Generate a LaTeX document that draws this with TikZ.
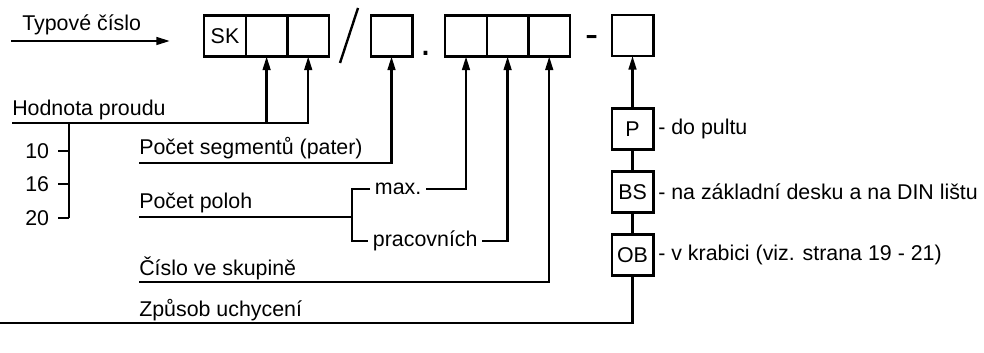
\documentclass[tikz,border=0pt]{standalone}
\usepackage{fontspec}
\setmainfont{Liberation Sans}
\usepackage{tikz}
\usetikzlibrary{arrows.meta, positioning}

\begin{document}
\begin{tikzpicture}[
        x=0.025cm, y=-0.025cm,
        every node/.append style={font=\fontsize{15.2}{18}\selectfont},
        cell/.style={rectangle, draw=black, line width=1.7pt, minimum width=1.04cm,
                        minimum height=1.02cm, inner sep=0pt, outer sep=0pt},
        label/.style={anchor=base west, inner sep=0pt},
        sep/.style={anchor=base, inner sep=0pt, font=\fontsize{28}{30}\selectfont},
        line/.style={line width=1.7pt},
        arrow/.style={line width=1.7pt, -{Triangle[length=3.4mm, width=1.9mm]}}
    ]
        \useasboundingbox (0,0) rectangle (984,353);

        % type number boxes
        \node[cell] (sk) at (225,36) {SK};
        \node[cell, right=0pt of sk] (a1) {};
        \node[cell, right=0pt of a1] (a2) {};
        \draw[line] (340,63) -- (358,8);
        \node[cell] (segbox) at (391.5,36) {};
        \node[sep] (dot) at (426,56) {.};
        \node[cell] (p1) at (466,36) {};
        \node[cell, right=0pt of p1] (p2) {};
        \node[cell, right=0pt of p2] (p3) {};
        \node[sep] (dash) at (592,48) {-};
        \node[cell] (mnt) at (632.5,35.5) {};

        % labels
        \node[label] (typtxt) at (22,31) {Typové číslo};
        \node[label] (hodtxt) at (12,116) {Hodnota proudu};
        \node[label] (segtxt) at (139,155) {Počet segmentů (pater)};
        \node[label] (poltxt) at (139,209) {Počet poloh};
        \node[label] (cistxt) at (139,275) {Číslo ve skupině};
        \node[label] (zputxt) at (139,316) {Způsob uchycení};

        \node[anchor=west] (max) at (370,189) {max.};
        \node[anchor=west] (prac) at (368,241) {pracovních};

        \coordinate (typstart) at (11,41);
        \coordinate (typend) at (170,41);
        \coordinate (hodline) at (12,123);
        \coordinate (bar) at (69,123);
        \coordinate (segline) at (139,163);
        \coordinate (polline) at (139,217);
        \coordinate (brk) at (352,217);
        \coordinate (cisline) at (139,282);
        \coordinate (zpuline) at (0,323);

        % mounting
        \node[cell] (pbox) at (632.5,129) {P};
        \node[cell] (bsbox) at (632.5,192) {BS};
        \node[cell] (obbox) at (632.5,255) {OB};
        \node[anchor=west] (pdesc) at (pbox.east) {- do pultu};
        \node[anchor=west] (bsdesc) at (bsbox.east) {- na základní desku a na DIN lištu};
        \node[anchor=west] (obdesc) at (obbox.east) {- v krabici (viz. strana 19 - 21)};

        \draw[arrow] (typstart) -- (typend);

        \draw[arrow] (hodline) -| (a2.south);
        \draw[arrow] (a1.south |- hodline) -- (a1.south);
        \foreach \val/\yy in {10/151, 16/184, 20/218} {
            \node[anchor=east] (i\val) at (54,\yy) {\val};
            \draw[line] (i\val.east) ++(4,0) -- (bar |- i\val.east);
        }
        \draw[line] (bar) -- (bar |- i20.east);

        \draw[arrow] (segline) -| (segbox.south);

        \draw[line] (polline) -- (brk);
        \draw[line] (max.west) -| (brk) |- (prac.west);
        \draw[arrow] (max.east) -| (p1.south);
        \draw[arrow] (prac.east) -| (p2.south);

        \draw[arrow] (cisline) -| (p3.south);

        \draw[arrow] (pbox.north) -- (mnt.south);
        \draw[line] (pbox.south) -- (bsbox.north);
        \draw[line] (bsbox.south) -- (obbox.north);
        \draw[line] (obbox.south) |- (zpuline);
    \end{tikzpicture}
\end{document}
